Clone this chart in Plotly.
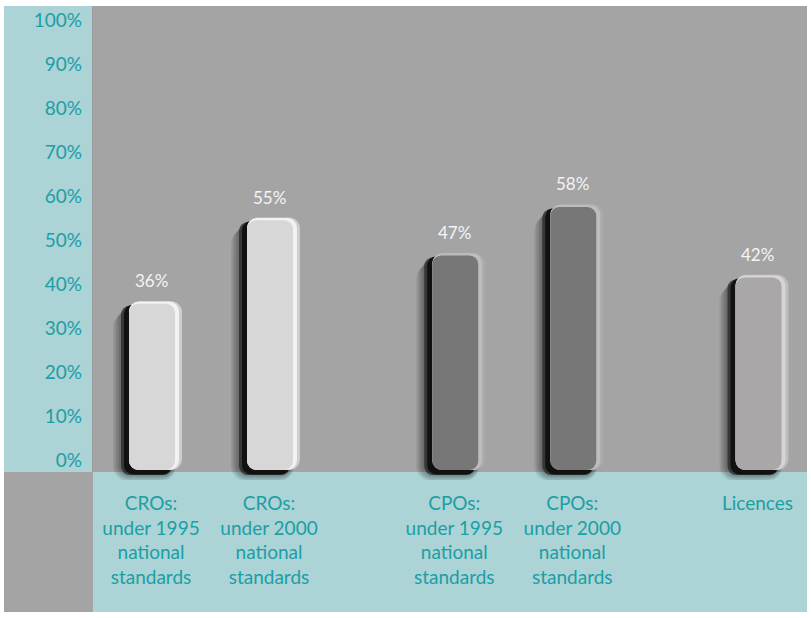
import plotly.graph_objects as go

# --- data ---------------------------------------------------------------
categories = [
    "CROs:<br>under 1995<br>national<br>standards",
    "CROs:<br>under 2000<br>national<br>standards",
    "CPOs:<br>under 1995<br>national<br>standards",
    "CPOs:<br>under 2000<br>national<br>standards",
    "Licences",
]
groups = [0, 0, 1, 1, 2]
values = [36, 55, 47, 58, 42]
face_colors = ["#d7d7d7", "#d7d7d7", "#777777", "#777777", "#a9a7a7"]
rim_colors = ["#f2f2f2", "#f2f2f2", "#bdbdbd", "#bdbdbd", "#d6d4d4"]
rim_outer_colors = ["#cdcdcd", "#cdcdcd", "#ababab", "#ababab", "#bebcbc"]
y_ticks = list(range(0, 101, 10))

# --- layout constants ---------------------------------------------------
W, H = 811, 618
TEAL = "#acd3d6"
GRAY = "#a4a4a4"
TEXT_TEAL = "#1a9fa5"
FONT = "Lato"

GROUP_GAP = 0.57          # extra spacing between groups (in slot units)
PX = 1 / 118.0            # one pixel in x-axis units
FOOT = 2.27               # bars sink slightly below the zero line

xpos = [i + GROUP_GAP * g for i, g in enumerate(groups)]


def px_x(px):
    return px / W


def px_y(py):
    return 1 - py / H


fig = go.Figure()


def layer(left, right, base, top_off, color, radius, opacity=1.0):
    """One overlay bar per category, spanning [left, right] px around x."""
    dx = (left + right) / 2
    fig.add_trace(go.Bar(
        x=[x + dx * PX for x in xpos],
        y=[v + top_off - base for v in values],
        base=base,
        width=(right - left) * PX,
        marker=dict(color=color, line=dict(width=0), cornerradius=radius),
        opacity=opacity,
        hoverinfo="skip",
        showlegend=False,
    ))


# soft drop shadow to the left and below
for k in range(1, 6):
    layer(-30 - 1.6 * k, 22 + 0.6 * k, -FOOT - 1.0 - 0.3 * k, -1.0 - 0.3 * k,
          "#000000", 10 + k, opacity=0.075)
# dark left / bottom edge
layer(-30, 21, -FOOT - 1.15, -0.9, "#262626", 9, opacity=0.75)
layer(-27, 21, -FOOT - 1.0, -0.7, "#111111", 9)
# light right / top rim
layer(-22, 31, -FOOT, 0.1, rim_outer_colors, 11)
layer(-22, 28, -FOOT, 0.0, rim_colors, 10)
# bar face
layer(-22, 24, -FOOT, -0.5, face_colors, 9)

# value labels
for x, v in zip(xpos, values):
    fig.add_annotation(
        x=x, y=v, xref="x", yref="y", yshift=21, showarrow=False,
        text=f"{v}%", font=dict(family=FONT, size=17, color="#f4f4f4"),
    )

# background panels
panels = [
    (4, 6, 93, 472, TEAL),
    (93, 6, 807, 472, GRAY),
    (4, 472, 93, 612, GRAY),
    (93, 472, 807, 612, TEAL),
]
for x0, y0, x1, y1, c in panels:
    fig.add_shape(type="rect", xref="paper", yref="paper",
                  x0=px_x(x0), x1=px_x(x1), y0=px_y(y1), y1=px_y(y0),
                  fillcolor=c, line=dict(width=0), layer="below")
fig.add_shape(type="line", xref="paper", yref="paper",
              x0=px_x(92.5), x1=px_x(92.5), y0=px_y(472), y1=px_y(6),
              line=dict(color="#9a9a9a", width=1), layer="below")

fig.update_layout(
    width=W, height=H,
    margin=dict(l=0, r=0, t=0, b=0),
    paper_bgcolor="white",
    plot_bgcolor="rgba(0,0,0,0)",
    barmode="overlay",
    showlegend=False,
    xaxis=dict(
        domain=[px_x(93), px_x(807)],
        range=[(93 - 151) * PX, (807 - 151) * PX],
        tickvals=xpos, ticktext=categories,
        showgrid=False, zeroline=False, showline=False,
        ticks="", ticklabelstandoff=10,
        tickfont=dict(family=FONT, size=19, color=TEXT_TEAL),
        fixedrange=True,
    ),
    yaxis=dict(
        domain=[px_y(480), px_y(6)],
        range=[-(480 - 460) / 4.4, (460 - 6) / 4.4],
        tickvals=y_ticks, ticktext=[f"{t}%" for t in y_ticks],
        showgrid=False, zeroline=False, showline=False,
        ticks="", ticklabelstandoff=10,
        tickfont=dict(family=FONT, size=19, color=TEXT_TEAL),
        fixedrange=True,
    ),
)

fig.write_html("out.html")
